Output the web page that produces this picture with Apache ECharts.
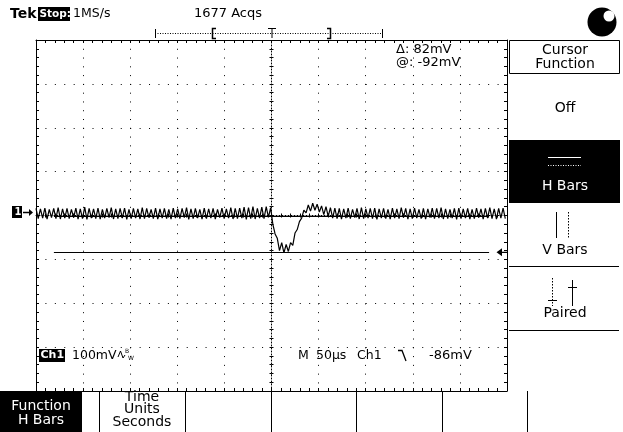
<!DOCTYPE html>
<html>
<head>
<meta charset="utf-8">
<script src="https://cdn.jsdelivr.net/npm/echarts@6/dist/echarts.min.js"></script>
<style>
html,body{margin:0;padding:0;background:#fff}
#c{width:623px;height:432px}
</style>
</head>
<body>
<div id="c"></div>
<script>
// Channel 1 record: one point every 2.35 µs from -250 µs to +248 µs (trigger at 0)
const SAMPLE_STEP_US = 2.35;
const RECORD_START_US = -250;

// ripple before the trigger event (mV)
const ripplePre = [
  8,-15,7,-14,9,-16,6,-13,8,-15,10,-16,7,-14,8,-15,6,-13,9,-16,
  7,-15,11,-17,8,-14,7,-15,9,-16,6,-14,8,-13,10,-16,7,-15,8,-14,
  9,-17,6,-15,8,-14,7,-16,10,-15,8,-13,6,-15,9,-16,7,-14,8,-15,
  6,-16,9,-14,7,-15,8,-13,10,-17,7,-15,8,-14,6,-16,9,-15,7,-14,
  8,-16,6,-13,9,-15,7,-14,10,-16,8,-15,9,-14,11,-17,10,-15,12,-16,
  8,-14,11,-15,12,-12
];
// the dip at the trigger and its overshoot (mV)
const dipValues = [
  10,-28,-50,-60,-88,-70,-93,-74,-90,-70,-76,-48,-40,-22,-14,4,
  -2,16,2,20,4,18,0,14,-6,12,-10,10
];
// ripple after the event (mV)
const ripplePost = [
  -14,9,-15,8,-16,7,-14,9,-15,6,-13,8,-16,10,-15,7,-14,8,-15,9,
  -17,7,-14,8,-15,6,-16,9,-14,7,-15,10,-13,8,-16,7,-15,9,-14,6,
  -15,8,-16,7,-13,9,-15,8,-14,10,-16,7,-15,6,-14,8,-17,9,-15,7,
  -14,8,-16,6,-15,9,-13,7,-16,8,-14,10,-15,7,-16,8,-14,9,-15
];

// scope settings and readouts
const mvPerDiv = 100;
const usPerDiv = 50;
const groundOffsetDiv = 0.08;   // channel position above screen centre
const cursorAt = -92;           // mV, selected H bar
const cursorDelta = 82;         // mV between the two H bars
const cursorSpanUs = 231;       // half-length of the H bars
const triggerLevel = -86;       // mV
const acqCount = 1677;

const trace = ripplePre.concat(dipValues, ripplePost)
  .map((v, i) => [RECORD_START_US + i * SAMPLE_STEP_US, v]);

const G = { left: 36, top: 40, width: 471, height: 351 };
const FONT = '"DejaVu Sans"';

function gAxis(extra) {
  return Object.assign({
    type: 'value', gridIndex: 0, silent: true,
    axisLabel: { show: false },
    axisLine: { show: true, onZero: false, lineStyle: { color: '#000', width: 1 } },
    axisTick: { show: true, inside: true, length: 3, lineStyle: { color: '#000', width: 1 } },
    minorTick: { show: true, splitNumber: 5, length: 3, lineStyle: { color: '#000', width: 1 } },
    splitLine: { show: false }
  }, extra);
}
function centreAxis(extra, inside) {
  return gAxis(Object.assign({
    axisLine: { show: inside, onZero: false, lineStyle: { color: '#000', width: 1, type: [1, 2] } },
    axisTick: { show: true, inside: inside, length: 2, lineStyle: { color: '#000', width: 1 } },
    minorTick: { show: true, splitNumber: 5, length: 2, lineStyle: { color: '#000', width: 1 } }
  }, extra));
}

function T(x, y, s, o) {
  o = o || {};
  const font = (o.weight || 'normal') + ' ' + (o.size || 12.5) + 'px ' + FONT;
  return { type: 'text', x: x, y: y, silent: true, z: 10,
    style: { text: s, fill: o.fill || '#000', font: font,
      align: o.align || 'left', verticalAlign: 'middle',
      textAlign: o.align || 'left', textVerticalAlign: 'middle' } };
}
function L(x1, y1, x2, y2, o) {
  o = o || {};
  return { type: 'line', silent: true, z: 10,
    shape: { x1: x1, y1: y1, x2: x2, y2: y2 },
    style: { stroke: o.stroke || '#000', lineWidth: o.w || 1, lineDash: o.dash || null } };
}
function R(x, y, w, h, o) {
  o = o || {};
  return { type: 'rect', silent: true, z: o.z || 9,
    shape: { x: x, y: y, width: w, height: h },
    style: { fill: o.fill === undefined ? '#000' : o.fill, stroke: o.stroke || null, lineWidth: 1 } };
}
function P(points, o) {
  o = o || {};
  return { type: o.fill ? 'polygon' : 'polyline', silent: true, z: 10,
    shape: { points: points },
    style: { stroke: o.fill ? null : '#000', fill: o.fill || null, lineWidth: o.w || 1 } };
}

const mvLabel = v => (v < 0 ? '-' : '') + Math.abs(v) + 'mV';
const MENU = 14;

const graphics = [
  // header
  T(10, 14, 'Tek', { weight: 'bold', size: 14 }),
  R(38, 7, 32, 14),
  T(39.5, 14, 'Stop:', { weight: 'bold', size: 10.5, fill: '#fff' }),
  T(73, 14, '1MS/s'),
  T(228, 14, acqCount + ' Acqs', { align: 'center', size: 13 }),
  // record view bar
  L(155, 33.5, 383, 33.5, { dash: [1, 1.5] }),
  L(155.5, 29, 155.5, 38), L(382.5, 29, 382.5, 38),
  P([[216, 28.5], [212.5, 28.5], [212.5, 38.5], [216, 38.5]], { w: 1.5 }),
  P([[327, 28.5], [330.5, 28.5], [330.5, 38.5], [327, 38.5]], { w: 1.5 }),
  L(268, 28.5, 276, 28.5), L(272, 28.5, 272, 38),
  // status ball
  { type: 'circle', silent: true, z: 10, shape: { cx: 602, cy: 22, r: 14.5 }, style: { fill: '#000' } },
  { type: 'circle', silent: true, z: 11, shape: { cx: 609, cy: 16, r: 5.5 }, style: { fill: '#fff' } },

  // ground marker for channel 1
  R(12, 206, 10, 12),
  T(14.5, 212, '1', { weight: 'bold', size: 10, fill: '#fff' }),
  L(23, 212.5, 30, 212.5, { w: 1.5 }),
  P([[29, 209], [33, 212.5], [29, 216]], { fill: '#000' }),

  // cursor readout
  T(396, 50, '\u0394: ' + cursorDelta + 'mV', { size: 13 }),
  T(396, 63, '@: ' + mvLabel(cursorAt), { size: 13 }),

  // channel / timebase readout
  R(39, 349, 26, 13),
  T(40.5, 355.5, 'Ch1', { weight: 'bold', size: 11, fill: '#fff' }),
  T(72, 355.5, mvPerDiv + 'mV'),
  P([[118, 357], [120.5, 351], [123, 358], [125, 355]]),
  T(125, 351.5, 'B', { size: 6 }),
  T(128, 358.5, 'W', { size: 6 }),
  T(298, 355.5, 'M'),
  T(316, 355.5, usPerDiv + '\u00b5s'),
  T(357, 355.5, 'Ch1'),
  P([[398, 350.5], [402, 350.5], [406, 361]], { w: 1.3 }),
  T(429, 355.5, mvLabel(triggerLevel), { size: 13 }),

  // side menu
  R(509.5, 40.5, 110, 33, { fill: '#fff', stroke: '#000' }),
  T(565, 50, 'Cursor', { align: 'center', size: MENU }),
  T(565, 64, 'Function', { align: 'center', size: MENU }),
  T(565, 108, 'Off', { align: 'center', size: MENU }),
  R(509, 140, 111, 63),
  L(548, 157.5, 581, 157.5, { stroke: '#fff' }),
  L(548, 165.5, 581, 165.5, { stroke: '#fff', dash: [1, 1.5] }),
  T(565, 186, 'H Bars', { align: 'center', size: MENU, fill: '#fff' }),
  L(556.5, 212, 556.5, 238),
  L(568.5, 212, 568.5, 238, { dash: [1.5, 1.5] }),
  T(565, 250, 'V Bars', { align: 'center', size: MENU }),
  L(509, 266.5, 619, 266.5),
  L(552.5, 278, 552.5, 306, { dash: [1.5, 1.5] }),
  L(548, 300.5, 557, 300.5),
  L(572.5, 280, 572.5, 306),
  L(568, 287.5, 577, 287.5),
  T(565, 313, 'Paired', { align: 'center', size: MENU }),
  L(509, 330.5, 619, 330.5),

  // bottom menu
  R(0, 391, 82, 41),
  T(41, 406, 'Function', { align: 'center', size: MENU, fill: '#fff' }),
  T(41, 420, 'H Bars', { align: 'center', size: MENU, fill: '#fff' }),
  T(142, 397.5, 'Time', { align: 'center', size: MENU }),
  T(142, 409.5, 'Units', { align: 'center', size: MENU }),
  T(142, 422, 'Seconds', { align: 'center', size: MENU }),
  L(99.5, 391, 99.5, 432), L(185.5, 391, 185.5, 432), L(271.5, 391, 271.5, 432),
  L(356.5, 391, 356.5, 432), L(442.5, 391, 442.5, 432), L(527.5, 391, 527.5, 432)
];

const chart = echarts.init(document.getElementById('c'), null, { renderer: 'canvas' });
chart.setOption({
  animation: false,
  backgroundColor: '#fff',
  grid: [
    Object.assign({ show: false, containLabel: false, outerBoundsMode: 'none' }, G),
    Object.assign({ show: false, containLabel: false, outerBoundsMode: 'none' }, G)
  ],
  xAxis: [
    gAxis({ position: 'bottom', min: 0, max: 10, interval: 1,
      splitLine: { show: true, lineStyle: { color: '#000', width: 1, type: [1, 7.78] } } }),
    gAxis({ position: 'top', min: 0, max: 10, interval: 1 }),
    centreAxis({ position: 'bottom', offset: -G.height / 2, min: 0, max: 10, interval: 1 }, true),
    centreAxis({ position: 'bottom', offset: -G.height / 2, min: 0, max: 10, interval: 1 }, false),
    { type: 'value', gridIndex: 1, min: -250, max: 250, show: false }
  ],
  yAxis: [
    gAxis({ position: 'left', min: 0, max: 8, interval: 1,
      splitLine: { show: true, lineStyle: { color: '#000', width: 1, type: [1, 8.42] } } }),
    gAxis({ position: 'right', min: 0, max: 8, interval: 1 }),
    centreAxis({ position: 'left', offset: -G.width / 2, min: 0, max: 8, interval: 1 }, true),
    centreAxis({ position: 'left', offset: -G.width / 2, min: 0, max: 8, interval: 1 }, false),
    { type: 'value', gridIndex: 1, show: false,
      min: -4 * mvPerDiv - groundOffsetDiv * mvPerDiv,
      max: 4 * mvPerDiv - groundOffsetDiv * mvPerDiv }
  ],
  series: [{
    type: 'line',
    xAxisIndex: 4, yAxisIndex: 4,
    data: trace,
    symbol: 'none',
    silent: true,
    clip: true,
    z: 5,
    lineStyle: { color: '#000', width: 1.2 },
    markLine: {
      silent: true, symbol: 'none', animation: false,
      label: { show: false },
      lineStyle: { color: '#000', width: 1, type: 'solid' },
      data: [
        [{ coord: [-cursorSpanUs, cursorAt] }, { coord: [cursorSpanUs, cursorAt] }],
        [{ coord: [-cursorSpanUs, cursorAt + cursorDelta] }, { coord: [cursorSpanUs, cursorAt + cursorDelta] }]
      ]
    },
    markPoint: {
      silent: true, animation: false,
      label: { show: false },
      itemStyle: { color: '#000' },
      data: [{
        coord: [244.7, cursorAt],
        symbol: 'path://M0,4L6,0L6,8Z M6,3.3L12,3.3L12,4.7L6,4.7Z',
        symbolSize: [11, 8]
      }]
    }
  }],
  graphic: { elements: graphics }
});
</script>
</body>
</html>
